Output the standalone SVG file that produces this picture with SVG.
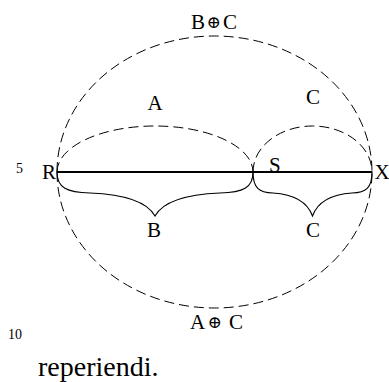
<svg xmlns="http://www.w3.org/2000/svg" width="389" height="382" viewBox="0 0 389 382">
<style>
.dash{fill:none;stroke:#000;stroke-width:1;stroke-dasharray:10 5}
.brace{fill:none;stroke:#000;stroke-width:1.1}
</style>
<rect width="389" height="382" fill="#fff"/>
<g id="connectors">
<path class="dash" d="M57,172 A157.5,136 0 0 1 372,172"/>
<path class="dash" d="M57,172 A157.5,136 0 0 0 372,172"/>
<path class="dash" d="M57,172 A98,46 0 0 1 253,172"/>
<path class="dash" d="M253,172 A59.5,46 0 0 1 372,172"/>
<line x1="57" y1="172" x2="372" y2="172" stroke="#000" stroke-width="2"/>
<path class="brace" d="M57,172 C57,188 67,192.5 90,193 C115,194 145,198 155,216 C165,198 195,194 220,193 C243,192.5 253,188 253,172"/>
<path class="brace" d="M253,172 C253,188 259,192.5 273,193 C288,194 306,198 312.5,216 C319,198 337,194 352,193 C366,192.5 372,188 372,172"/>
</g>
<g font-family="Liberation Serif" font-size="21" fill="#000">
<g id="node-R"><text x="42" y="179">R</text></g>
<g id="node-S"><text x="269" y="171.5">S</text></g>
<g id="node-X"><text x="374.5" y="179">X</text></g>
<g id="label-A"><text x="155" y="110" text-anchor="middle">A</text></g>
<g id="label-C-top"><text x="313" y="104" text-anchor="middle">C</text></g>
<g id="label-B"><text x="154" y="237" text-anchor="middle">B</text></g>
<g id="label-C-bottom"><text x="313" y="237" text-anchor="middle">C</text></g>
<g id="label-BxorC"><text y="29"><tspan x="191">B</tspan><tspan font-family="DejaVu Serif" font-size="17" x="206.5" y="28">⊕</tspan><tspan x="223" y="29">C</tspan></text></g>
<g id="label-AxorC"><text y="329"><tspan x="190">A</tspan><tspan font-family="DejaVu Serif" font-size="17" x="207.5" y="328">⊕</tspan><tspan x="229" y="329">C</tspan></text></g>
<text font-size="14" x="16" y="172.5">5</text>
<text font-size="14" x="8" y="339">10</text>
<text font-size="28" x="38" y="376">reperiendi.</text>
</g>
</svg>
